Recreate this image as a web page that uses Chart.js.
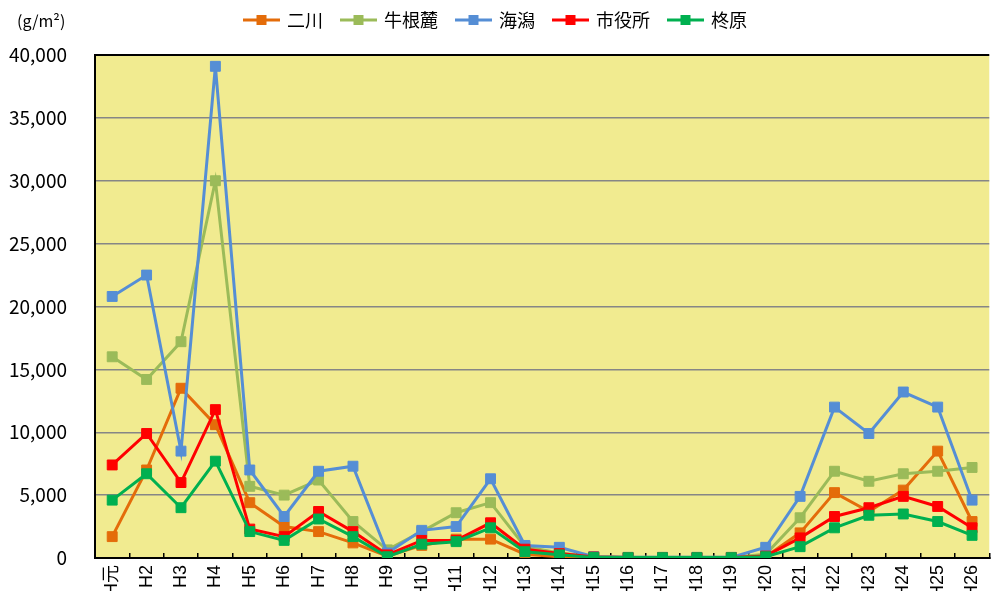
<!DOCTYPE html>
<html><head><meta charset="utf-8">
<script src="https://cdn.jsdelivr.net/npm/chart.js@4/dist/chart.umd.min.js"></script>
<style>
html,body{margin:0;padding:0;background:#fff;overflow:hidden;}
#wrap{position:relative;width:1006px;height:600px;}
#unit{position:absolute;left:17px;top:8px;font:16px "Noto Sans CJK JP";color:#000;}
</style></head><body>
<div id="wrap"><canvas id="c"></canvas><div id="unit">(g/m²)</div></div>
<script>
const categories = ['H元','H2','H3','H4','H5','H6','H7','H8','H9','H10','H11','H12','H13','H14','H15','H16','H17','H18','H19','H20','H21','H22','H23','H24','H25','H26'];
const yTickValues = [0,5000,10000,15000,20000,25000,30000,35000,40000];
const yTickLabels = ['0','5,000','10,000','15,000','20,000','25,000','30,000','35,000','40,000'];
const seriesNames = ['二川','牛根麓','海潟','市役所','柊原'];
const futakawa = [1700,7000,13500,10600,4400,2500,2100,1200,150,1000,1500,1500,300,100,50,30,30,30,30,100,2000,5200,3700,5400,8500,2900];
const ushinefumoto = [16000,14200,17200,30000,5700,5000,6200,2900,650,2100,3600,4400,900,400,100,50,50,50,50,300,3200,6900,6100,6700,6900,7200];
const kaigata = [20800,22500,8500,39100,7000,3300,6900,7300,400,2200,2500,6300,1000,850,100,50,50,50,50,850,4900,12000,9900,13200,12000,4600];
const shiyakusho = [7400,9900,6000,11800,2300,1700,3700,2100,250,1400,1400,2800,700,350,80,30,30,30,30,150,1600,3300,4000,4900,4100,2400];
const hiiragibaru = [4600,6700,4000,7700,2100,1400,3100,1700,100,1100,1300,2400,500,250,50,30,30,30,30,100,900,2400,3400,3500,2900,1800];

const colors = ['#E46C0A','#9BBB59','#558ED5','#FF0000','#00B050'];
const values = [futakawa, ushinefumoto, kaigata, shiyakusho, hiiragibaru];

function makeIcon(color){
  const c=document.createElement('canvas'); c.width=37; c.height=12;
  const x=c.getContext('2d');
  x.strokeStyle=color; x.lineWidth=3; x.beginPath(); x.moveTo(0,6); x.lineTo(37,6); x.stroke();
  x.fillStyle=color; x.fillRect(13.5,1,10,10);
  return c;
}
const icons = colors.map(makeIcon);

const datasets = seriesNames.map((name,i)=>({
  label:name, data:values[i], borderColor:colors[i], backgroundColor:colors[i],
  borderWidth:3, pointStyle:'rect', pointRadius:7, pointBorderWidth:1,
  pointBackgroundColor:colors[i], pointBorderColor:colors[i],
  tension:0, fill:false, order:seriesNames.length-i, xAxisID:'x'
}));

const bgPlugin = { id:'plotBg', beforeDraw(chart){ const {ctx, chartArea:a}=chart; ctx.save(); ctx.fillStyle='#F1EB90'; ctx.fillRect(a.left,a.top,a.right-a.left,a.bottom-a.top); ctx.restore(); } };

const jp = '"Noto Sans CJK JP", "Noto Sans", sans-serif';
new Chart(document.getElementById('c'), {
  type:'line',
  data:{labels:categories, datasets},
  plugins:[bgPlugin],
  options:{
    responsive:true, maintainAspectRatio:false, animation:false,
    layout:{padding:{left:-14,right:0,top:-8,bottom:0}},
    plugins:{
      tooltip:{enabled:false},
      legend:{
        position:'top', align:'center',
        labels:{
          usePointStyle:true, pointStyleWidth:33, padding:19, color:'#000',
          font:{size:18, family:jp},
          generateLabels(chart){
            return chart.data.datasets.map((ds,i)=>({text:ds.label, pointStyle:icons[i], fillStyle:ds.borderColor, strokeStyle:ds.borderColor, lineWidth:0, hidden:false, datasetIndex:i, fontColor:'#000'}));
          }
        }
      }
    },
    scales:{
      x:{
        offset:true,
        grid:{offset:true, drawOnChartArea:false, tickLength:-5, color:'#000', lineWidth:1.5},
        border:{color:'#000', width:2},
        ticks:{autoSkip:false, maxRotation:90, minRotation:90, padding:12, color:'#000', font:{size:18, family:'"Liberation Sans", "Noto Sans CJK JP", sans-serif'}},
        afterFit(s){ s.height=42; }
      },
      xTop:{
        type:'category', position:'top', display:true,
        grid:{display:false, drawTicks:false}, border:{display:false},
        ticks:{display:false},
        afterFit(s){ s.height=16; }
      },
      y:{
        min:0, max:40000,
        afterBuildTicks(s){ s.ticks = yTickValues.map(v=>({value:v})); },
        ticks:{padding:28, color:'#000', font:{size:19, family:jp}, callback:(v,i)=>yTickLabels[i]},
        grid:{drawTicks:false, color:c=>c.tick && c.tick.value===40000?'#000':'#868686', lineWidth:c=>c.tick && c.tick.value===40000?2:1.5},
        border:{color:'#000', width:2},
        afterFit(s){ s.width=109; }
      }
    }
  }
});
</script>
</body></html>
